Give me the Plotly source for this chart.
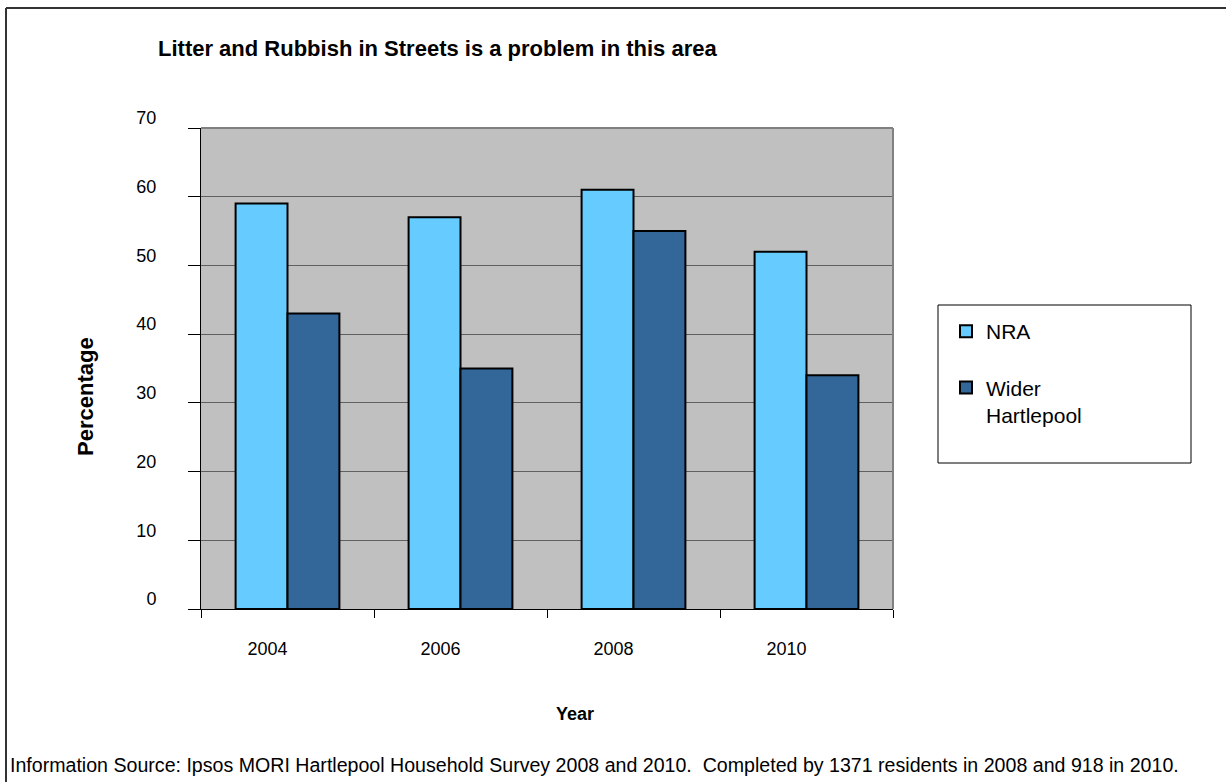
import plotly.graph_objects as go

years = ["2004", "2006", "2008", "2010"]
nra = [59, 57, 61, 52]
wider = [43, 35, 55, 34]
series_names = ["NRA", "Wider<br>Hartlepool"]
series_colors = ["#66CCFF", "#336699"]

W, H = 1226, 782
L, R, T, B = 201, 893, 128, 609
pw, ph = R - L, B - T

def px(x):
    return (x - L) / pw

def py(y):
    return (B - y) / ph

FONT = "Arial, 'Liberation Sans', sans-serif"

fig = go.Figure()
for i, (name, vals, col) in enumerate(zip(series_names, [nra, wider], series_colors)):
    fig.add_trace(go.Bar(
        x=years, y=vals, name=name, legendgroup="g%d" % i,
        marker=dict(color=col, line=dict(color="black", width=2)),
    ))

fig.update_layout(
    width=W, height=H,
    margin=dict(l=L, r=W - R, t=T, b=H - B, pad=0),
    paper_bgcolor="white", plot_bgcolor="#C0C0C0",
    font=dict(family=FONT, color="black", size=18),
    barmode="group", bargap=0.4, bargroupgap=0,
    showlegend=True,
    legend=dict(x=px(946), y=py(311), xanchor="left", yanchor="top",
                bgcolor="rgba(0,0,0,0)", borderwidth=0, valign="top",
                font=dict(size=21, family=FONT), tracegroupgap=26),
    xaxis=dict(type="category", tickson="boundaries", ticks="outside", ticklen=8,
               tickcolor="black", showline=True, linecolor="black", linewidth=1,
               showgrid=False, ticklabelshift=-20, ticklabelstandoff=23,
               tickfont=dict(size=18)),
    yaxis=dict(range=[0, 70], dtick=10, ticks="outside", ticklen=12, tickcolor="black",
               showline=True, linecolor="black", linewidth=1,
               showgrid=True, gridcolor="#606060", gridwidth=1,
               ticklabelshift=-10, ticklabelstandoff=28, tickfont=dict(size=18),
               zeroline=False),
)

shapes = [
    # plot area top/right border
    dict(type="line", xref="paper", yref="paper", x0=0, x1=1, y0=1, y1=1,
         line=dict(color="#808080", width=2)),
    dict(type="line", xref="paper", yref="paper", x0=1, x1=1, y0=0, y1=1,
         line=dict(color="#808080", width=2)),
    # legend box
    dict(type="rect", xref="paper", yref="paper", x0=px(938), x1=px(1191),
         y0=py(463), y1=py(305), line=dict(color="black", width=1)),
    # outer border
    dict(type="line", xref="paper", yref="paper", x0=px(6), x1=px(1240), y0=py(8), y1=py(8),
         line=dict(color="#333333", width=2)),
    dict(type="line", xref="paper", yref="paper", x0=px(6), x1=px(6), y0=py(8), y1=py(800),
         line=dict(color="#333333", width=2)),
]
fig.update_layout(shapes=shapes)

annotations = [
    dict(text="<b>Litter and Rubbish in Streets is a problem in this area</b>",
         x=px(156), y=py(49), xanchor="left", yanchor="middle",
         font=dict(size=22, family=FONT)),
    dict(text="<b>Percentage</b>", x=px(85), y=py(397), textangle=-90,
         xanchor="center", yanchor="middle", font=dict(size=22, family=FONT)),
    dict(text="<b>Year</b>", x=px(575), y=py(714), xanchor="center", yanchor="middle",
         font=dict(size=18, family=FONT)),
    dict(text="Information Source: Ipsos MORI Hartlepool Household Survey 2008 and 2010.  Completed by 1371 residents in 2008 and 918 in 2010.",
         x=px(8), y=py(765), xanchor="left", yanchor="middle",
         font=dict(size=19.6, family=FONT)),
]
for a in annotations:
    a.update(xref="paper", yref="paper", showarrow=False)
fig.update_layout(annotations=annotations)

fig.write_html("out.html")
